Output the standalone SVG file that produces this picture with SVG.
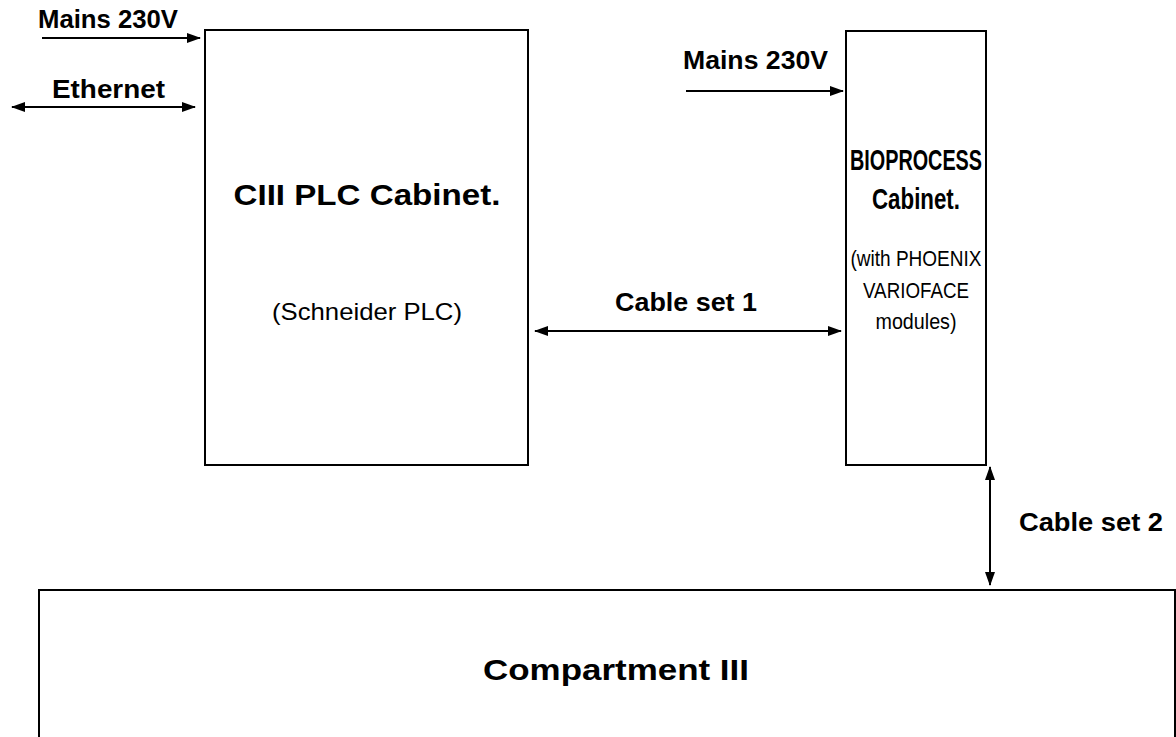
<svg xmlns="http://www.w3.org/2000/svg" width="1176" height="737" viewBox="0 0 1176 737">
<defs>
<style>
.box{fill:#fff;stroke:#000;stroke-width:2}
.ln{stroke:#000;stroke-width:2;fill:none}
.b{font-family:"Liberation Sans",Arial,sans-serif;font-weight:bold;fill:#000}
.r{font-family:"Liberation Sans",Arial,sans-serif;fill:#000}
.t{font-size:30px}
.l{font-size:25px}
.s{font-size:24px}
.bs{font-size:22px}
</style>
<marker id="ah" viewBox="0 0 14 10" refX="13" refY="5" markerWidth="14" markerHeight="10" markerUnits="userSpaceOnUse" orient="auto-start-reverse">
<path d="M0,0 L14,5 L0,10 Z" fill="#000"/>
</marker>
</defs>
<rect width="1176" height="737" fill="#fff"/>
<g id="plc">
<rect class="box" x="205" y="30" width="323" height="435"/>
<text class="b t" x="367" y="205" text-anchor="middle" textLength="267" lengthAdjust="spacingAndGlyphs">CIII PLC Cabinet.</text>
<text class="r s" x="367" y="320" text-anchor="middle" textLength="190" lengthAdjust="spacingAndGlyphs">(Schneider PLC)</text>
</g>
<g id="bio">
<rect class="box" x="846" y="31" width="140" height="434"/>
<text class="b t" x="916" y="170" text-anchor="middle" textLength="132" lengthAdjust="spacingAndGlyphs">BIOPROCESS</text>
<text class="b t" x="916" y="209" text-anchor="middle" textLength="88" lengthAdjust="spacingAndGlyphs">Cabinet.</text>
<text class="r bs" x="916" y="266" text-anchor="middle" textLength="131" lengthAdjust="spacingAndGlyphs">(with PHOENIX</text>
<text class="r bs" x="916" y="298" text-anchor="middle" textLength="106" lengthAdjust="spacingAndGlyphs">VARIOFACE</text>
<text class="r bs" x="916" y="329" text-anchor="middle" textLength="81" lengthAdjust="spacingAndGlyphs">modules)</text>
</g>
<g id="comp">
<rect class="box" x="39" y="590" width="1136" height="160"/>
<text class="b t" x="616" y="680" text-anchor="middle" textLength="266" lengthAdjust="spacingAndGlyphs">Compartment III</text>
</g>
<g id="connectors">
<line class="ln" x1="42" y1="38" x2="200" y2="38" marker-end="url(#ah)"/>
<line class="ln" x1="12" y1="107" x2="195" y2="107" marker-start="url(#ah)" marker-end="url(#ah)"/>
<line class="ln" x1="686" y1="91" x2="843" y2="91" marker-end="url(#ah)"/>
<line class="ln" x1="535" y1="331" x2="841" y2="331" marker-start="url(#ah)" marker-end="url(#ah)"/>
<line class="ln" x1="990" y1="467" x2="990" y2="585" marker-start="url(#ah)" marker-end="url(#ah)"/>
</g>
<g id="labels">
<text class="b l" x="38" y="28" textLength="140" lengthAdjust="spacingAndGlyphs">Mains 230V</text>
<text class="b l" x="108.5" y="98" text-anchor="middle" textLength="113" lengthAdjust="spacingAndGlyphs">Ethernet</text>
<text class="b l" x="683" y="69" textLength="145" lengthAdjust="spacingAndGlyphs">Mains 230V</text>
<text class="b l" x="686" y="311" text-anchor="middle" textLength="142" lengthAdjust="spacingAndGlyphs">Cable set 1</text>
<text class="b l" x="1019" y="531" textLength="144" lengthAdjust="spacingAndGlyphs">Cable set 2</text>
</g>
</svg>
